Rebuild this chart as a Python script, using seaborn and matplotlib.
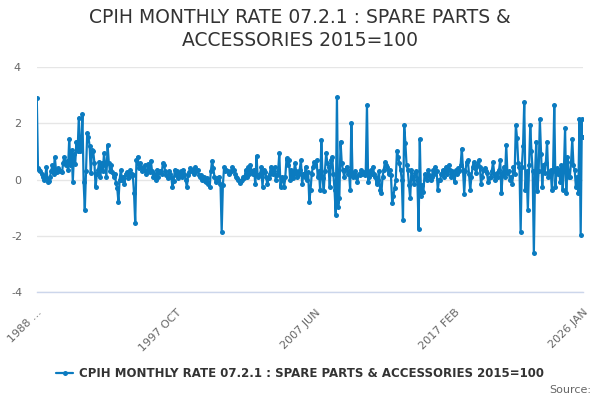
import numpy as np
import pandas as pd
import matplotlib
matplotlib.use("Agg")
import matplotlib.pyplot as plt
import seaborn as sns

# Monthly rates (%), 1988 FEB .. 2026 JAN
rates_1988_1995 = [2.9, 0.42, 0.35, 0.3, 0.2, 0.1, 0.0, 0.1, 0.43, -0.08, -0.05,
                   0.1, 0.3, 0.5, 0.2, 0.8, 0.35, 0.25, 0.4, 0.3,
                   0.3, 0.25, 0.6, 0.8, 0.5, 0.65, 0.35, 1.43,
                   0.52, 1.05, -0.08, 0.9, 0.55, 1.35, 1.0, 2.2, 1.0,
                   1.1, 2.33, -0.08, -1.08, 0.3, 1.64, 1.5, 1.2,
                   0.22, 1.05, 1.0, 0.6, -0.28, 0.2, 0.34, 0.63,
                   0.1, 0.58, 0.3, 0.93, 0.5, 0.1, 1.23, 0.6, 0.3,
                   0.52, 0.25, 0.1, 0.2, -0.14, -0.3, -0.79, 0.0, 0.34,
                   0.0, 0.1, -0.15, 0.2, 0.25, 0.05, 0.1, 0.34,
                   0.2, 0.15, -0.49, -1.56, 0.69, 0.81, 0.4, 0.58,
                   0.45, 0.3, 0.35, 0.5, 0.2, 0.3, 0.55, 0.25]
rates_1996_2003 = [0.67, 0.3, 0.1, 0.2, 0.0, 0.35, 0.1, 0.25,
                   0.3, 0.2, 0.58, 0.5, 0.3, 0.15, 0.05, 0.3,
                   0.2, 0.1, -0.28, -0.05, 0.35, 0.15, 0.3, 0.05, 0.2,
                   0.3, 0.1, 0.35, 0.2, 0.0, -0.28, 0.15, 0.25,
                   0.4, 0.3, 0.35, 0.2, 0.43, 0.3, 0.35, 0.15,
                   0.1, 0.15, 0.0, 0.1, -0.05, -0.1, 0.05, -0.15, -0.28,
                   0.3, 0.67, 0.4, 0.1, -0.08, 0.05, 0.0, 0.1,
                   -0.15, -1.86, -0.2, 0.43, 0.3, 0.35, 0.3, 0.2,
                   0.25, 0.3, 0.43, 0.35, 0.2, 0.1, 0.05, 0.0, -0.14,
                   -0.05, 0.0, 0.1, 0.05, 0.35, 0.1, 0.43, 0.2]
rates_2003_2010 = [0.5, 0.3, 0.2, 0.35, -0.17, 0.84, 0.1, 0.15,
                   0.2, 0.43, -0.26, 0.34, 0.25, 0.1, -0.17, 0.05, 0.2,
                   0.46, 0.3, 0.2, 0.43, 0.0, 0.15, 0.3, 0.93,
                   -0.28, 0.1, 0.0, -0.28, 0.1, 0.75, 0.5, 0.69, 0.0,
                   0.34, 0.05, 0.2, 0.58, 0.3, 0.1, 0.2, 0.35,
                   0.69, -0.17, 0.2, 0.1, 0.46, 0.0, 0.25, -0.79,
                   -0.37, 0.2, 0.46, 0.63, 0.5, 0.69, 0.1, 0.3,
                   -0.37, 1.41, 0.05, -0.4, 0.3, 0.93, 0.6, 0.46, -0.26,
                   0.69, 0.81, 0.2, -0.37, -1.26, 2.93, -0.97, -0.67,
                   1.35, 0.58, 0.34, 0.1, 0.34, 0.46, 0.2, 0.3]
rates_2010_2018 = [-0.37, 2.02, 0.1, 0.22, 0.3, 0.1, -0.08, 0.2, 0.15,
                   0.34, 0.2, 0.25, 0.15, 0.3, 2.65, -0.08, 0.1,
                   0.34, 0.2, 0.46, 0.2, 0.1, -0.17, 0.0, 0.3,
                   -0.37, -0.49, 0.1, 0.34, 0.63, 0.5, 0.45, 0.2, 0.34,
                   0.15, -0.85, -0.6, -0.3, 0.0, 1.03, 0.8, 0.58,
                   0.34, 0.0, -1.44, 1.94, 1.3, 0.5, 0.34, -0.2,
                   -0.67, 0.34, 0.1, -0.17, 0.22, 0.3, 0.0, -1.76, 1.43,
                   -0.6, -0.2, -0.45, 0.2, 0.1, 0.0, 0.34, 0.15,
                   0.0, 0.1, 0.34, 0.2, 0.45, 0.3, -0.36, 0.0,
                   0.0, 0.2, 0.34, 0.1, 0.3, 0.46, 0.2, 0.52, 0.35]
rates_2018_2026 = [0.1, 0.3, 0.2, -0.1, 0.34, 0.2, 0.4, 0.3,
                   0.52, 1.1, 0.34, -0.5, 0.3, 0.63, 0.69, 0.2,
                   -0.37, 0.1, 0.46, 0.63, 0.4, 0.22, 0.5, 0.69, 0.46,
                   -0.17, 0.1, 0.34, 0.4, 0.3, 0.22, -0.1, 0.05,
                   0.1, 0.3, 0.63, 0.2, 0.0, 0.22, 0.1, 0.34,
                   0.69, -0.49, 0.2, 0.46, 0.1, 1.23, 0.22, 0.3, 0.0,
                   0.1, -0.17, 0.46, 0.2, 1.94, 1.47, 0.6, 0.46,
                   -1.86, 0.46, 1.2, 2.75, -0.37, 0.3, -1.08, 0.5, 1.94,
                   1.0, 0.3, -2.63, 0.22, 1.35, -0.4, 0.3, 2.14,
                   0.9, -0.26, 0.52, 0.22, 0.6, 1.35, 0.1, 0.2,
                   0.34, -0.37, 0.3, 2.65, -0.26, 0.4, 0.2, 0.34,
                   -0.08, 0.52, -0.37, 0.3, 1.82, -0.49, 0.8, 0.1,
                   0.1, 0.63, 1.43, 0.5, 0.34, -0.26, 0.1, -0.49,
                   2.14, -1.97, 2.14, 1.52]

values = rates_1988_1995 + rates_1996_2003 + rates_2003_2010 + rates_2010_2018 + rates_2018_2026
months = pd.date_range("1988-02-01", periods=len(values), freq="MS")
categories = [f"{d.year} {d.strftime('%b').upper()}" for d in months]

tick_step = 29
label_every = 4
first_label = "1988 ..."
y_ticks = [-4, -2, 0, 2, 4]
title = "CPIH MONTHLY RATE 07.2.1 : SPARE PARTS &\nACCESSORIES 2015=100"
series_name = "CPIH MONTHLY RATE 07.2.1 : SPARE PARTS & ACCESSORIES 2015=100"

df = pd.DataFrame({"pos": np.arange(len(values)), "category": categories, "value": values})

sns.set_theme(style="white")
plt.rcParams["font.family"] = ["DejaVu Sans"]

line_color = "#0b7bc0"
fig = plt.figure(figsize=(6, 4), dpi=100)
ax = fig.add_axes([0.0613, 0.27, 0.9105, 0.5625])

sns.lineplot(data=df, x="pos", y="value", ax=ax, color=line_color, linewidth=1.6,
             marker="o", markersize=3.6, markeredgewidth=0, label=series_name, legend=False)

n = len(values)
ax.set_xlim(0, n - 1)
ax.set_ylim(-4, 4)
ax.set_yticks(y_ticks)
ax.set_yticklabels([str(t) for t in y_ticks], color="#666666", fontsize=8)
ax.yaxis.grid(True, color="#e6e6e6", linewidth=1)
ax.xaxis.grid(False)

tick_pos = list(range(0, n, tick_step))
if tick_pos[-1] != n - 1:
    tick_pos.append(n - 1)
labels = []
for i, p in enumerate(tick_pos):
    if p == 0:
        labels.append(first_label)
    elif p == n - 1 or i % label_every == 0:
        labels.append(categories[p])
    else:
        labels.append("")
ax.set_xticks(tick_pos)
ax.set_xticklabels(labels, rotation=45, ha="right", rotation_mode="anchor",
                   color="#666666", fontsize=8)
ax.tick_params(axis="x", length=9, width=1, color="#ccd6eb", direction="out", pad=2)
ax.tick_params(axis="y", length=0, pad=14)
for t in ax.get_yticklabels():
    t.set_horizontalalignment("center")

for s in ["left", "right", "top"]:
    ax.spines[s].set_visible(False)
ax.spines["bottom"].set_color("#ccd6eb")
ax.spines["bottom"].set_linewidth(1)
ax.set_xlabel("")
ax.set_ylabel("")

fig.suptitle(title, y=0.98, fontsize=13.5, color="#333333", linespacing=1.25)

handle = plt.Line2D([], [], color=line_color, marker="o", markersize=3.6,
                    markeredgewidth=0, linewidth=1.6)
fig.legend([handle], [series_name], loc="center", bbox_to_anchor=(0.5, 0.066),
           frameon=False, handlelength=1.4, handletextpad=0.5,
           prop={"weight": "bold", "size": 8.5}, labelcolor="#333333")
fig.text(0.985, 0.025, "Source:", ha="right", va="center", fontsize=8, color="#666666")

fig.savefig("out.png", dpi=100)
